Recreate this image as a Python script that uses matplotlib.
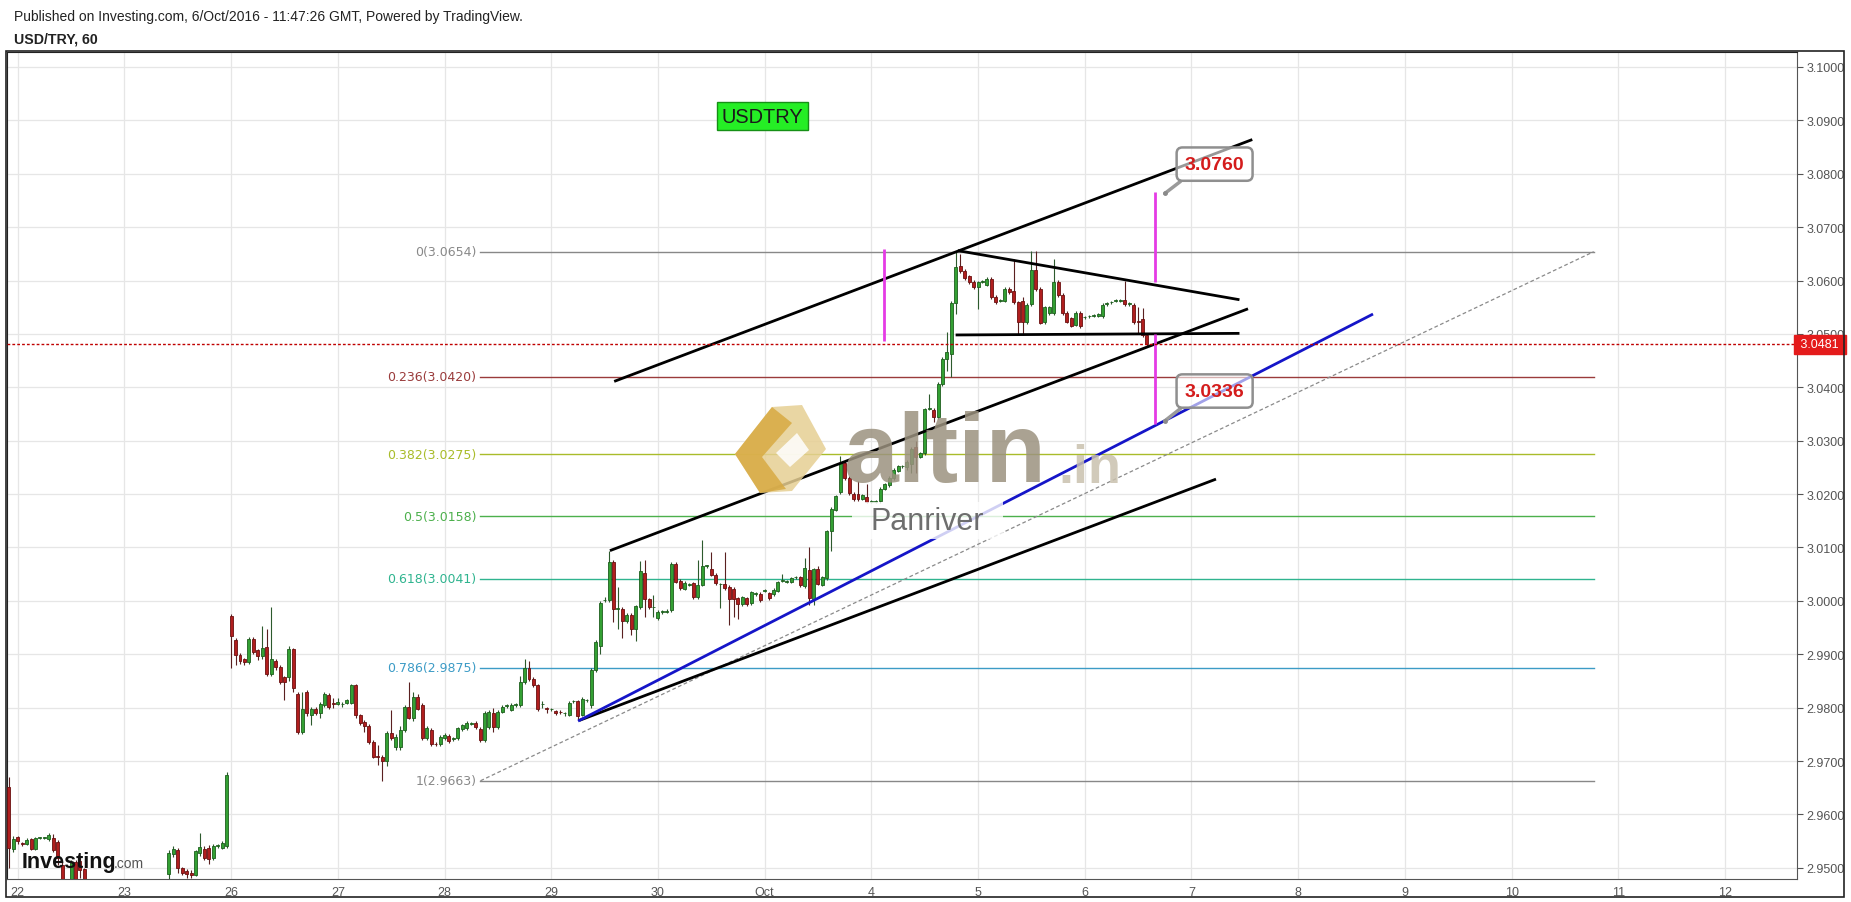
import numpy as np
import matplotlib
matplotlib.use("Agg")
import matplotlib.pyplot as plt
from matplotlib import patches, transforms

plt.rcParams['font.family'] = ['Liberation Sans', 'DejaVu Sans']

nan = np.nan
# hourly candles, first one 2 hours before the "22" day line; nan = off the bottom of the chart
first_hour = -2
opens = [
    2.9652, 2.9535, 2.9557, 2.9546, 2.9545, 2.9553, 2.9536, 2.9556, 2.9556, 2.9553, 2.9556, 2.9549,
    2.9506, 2.9460, 2.9440, 2.9510, 2.9513, 2.9497] + [nan] * 18 + [
    2.9488, 2.9525, 2.9534, 2.9500, 2.9494, 2.9491, 2.9487, 2.9527, 2.9536, 2.9538, 2.9519, 2.9541,
    2.9538, 2.9540, 2.9972, 2.9927, 2.9899, 2.9891, 2.9886, 2.9929, 2.9907, 2.9896, 2.9913, 2.9863,
    2.9888, 2.9876, 2.9857, 2.9857, 2.9909, 2.9826, 2.9755, 2.9830, 2.9786, 2.9798, 2.9789, 2.9805,
    2.9824, 2.9808, 2.9807, 2.9806, 2.9809, 2.9809, 2.9842, 2.9786, 2.9773, 2.9766, 2.9736, 2.9709,
    2.9708, 2.9700, 2.9752, 2.9726, 2.9726, 2.9758, 2.9801, 2.9780, 2.9820, 2.9804, 2.9743, 2.9758,
    2.9732, 2.9732, 2.9743, 2.9747, 2.9742, 2.9743, 2.9760, 2.9761, 2.9770, 2.9772, 2.9760, 2.9739,
    2.9764, 2.9790, 2.9764, 2.9792, 2.9803, 2.9796, 2.9805, 2.9805, 2.9848, 2.9874, 2.9854, 2.9842,
    2.9806, 2.9799, 2.9797, 2.9793, 2.9792, 2.9789, 2.9787, 2.9812, 2.9812, 2.9787, 2.9814, 2.9805,
    2.9870, 2.9916, 3.0001, 3.0001, 3.0072, 2.9985, 2.9985, 2.9963, 2.9974, 2.9948, 2.9988, 3.0052,
    3.0003, 2.9988, 2.9968, 2.9979, 2.9980, 2.9982, 3.0069, 3.0038, 3.0023, 3.0030, 3.0033, 3.0007,
    3.0030, 3.0065, 3.0060, 3.0049, 3.0031, 3.0031, 3.0026, 3.0023, 3.0005, 2.9994, 3.0005, 2.9996,
    3.0013, 3.0013, 3.0019, 3.0014, 3.0013, 3.0019, 3.0038, 3.0036, 3.0036, 3.0044, 3.0044, 3.0027,
    3.0057, 3.0004, 3.0059, 3.0030, 3.0042, 3.0130, 3.0171, 3.0204, 3.0258, 3.0230, 3.0200, 3.0200,
    3.0191, 3.0194, 3.0186, 3.0186, 3.0187, 3.0210, 3.0217, 3.0230, 3.0244, 3.0252, 3.0251, 3.0256,
    3.0288, 3.0270, 3.0277, 3.0360, 3.0358, 3.0344, 3.0406, 3.0453, 3.0463, 3.0557, 3.0627, 3.0618,
    3.0608, 3.0598, 3.0587, 3.0598, 3.0592, 3.0603, 3.0570, 3.0562, 3.0562, 3.0585, 3.0581, 3.0559,
    3.0562, 3.0522, 3.0556, 3.0619, 3.0585, 3.0522, 3.0539, 3.0539, 3.0598, 3.0573, 3.0539, 3.0529,
    3.0517, 3.0539, 3.0531, 3.0533, 3.0534, 3.0534, 3.0533, 3.0556, 3.0559, 3.0562, 3.0562, 3.0563,
    3.0556, 3.0554, 3.0525, 3.0528, 3.0498]
highs = [
    2.9670, 2.9560, 2.9560, 2.9549, 2.9555, 2.9556, 2.9558, 2.9558, 2.9558, 2.9566, 2.9563, 2.9552,
    2.9510, 2.9470, 2.9515, 2.9515, 2.9520, 2.9500] + [nan] * 18 + [
    2.9533, 2.9540, 2.9538, 2.9502, 2.9497, 2.9495, 2.9534, 2.9566, 2.9540, 2.9542, 2.9545, 2.9545,
    2.9550, 2.9680, 2.9975, 2.9930, 2.9903, 2.9893, 2.9932, 2.9932, 2.9910, 2.9953, 2.9947, 2.9988,
    2.9892, 2.9880, 2.9860, 2.9916, 2.9912, 2.9830, 2.9830, 2.9833, 2.9802, 2.9801, 2.9810, 2.9830,
    2.9827, 2.9818, 2.9818, 2.9810, 2.9817, 2.9845, 2.9845, 2.9788, 2.9776, 2.9770, 2.9740, 2.9730,
    2.9712, 2.9756, 2.9795, 2.9750, 2.9765, 2.9805, 2.9848, 2.9830, 2.9825, 2.9808, 2.9765, 2.9762,
    2.9736, 2.9748, 2.9752, 2.9750, 2.9745, 2.9764, 2.9770, 2.9775, 2.9773, 2.9775, 2.9764, 2.9793,
    2.9795, 2.9800, 2.9795, 2.9804, 2.9806, 2.9808, 2.9808, 2.9860, 2.9891, 2.9888, 2.9857, 2.9845,
    2.9812, 2.9802, 2.9800, 2.9796, 2.9795, 2.9792, 2.9812, 2.9815, 2.9815, 2.9820, 2.9817, 2.9874,
    2.9926, 3.0000, 3.0007, 3.0094, 3.0076, 3.0026, 2.9988, 2.9977, 2.9977, 2.9993, 3.0074, 3.0076,
    3.0006, 3.0011, 2.9982, 2.9982, 2.9985, 3.0072, 3.0072, 3.0041, 3.0037, 3.0033, 3.0036, 3.0077,
    3.0114, 3.0068, 3.0091, 3.0052, 3.0034, 3.0091, 3.0029, 3.0026, 3.0008, 3.0010, 3.0008, 3.0019,
    3.0016, 3.0016, 3.0022, 3.0017, 3.0024, 3.0038, 3.0051, 3.0039, 3.0045, 3.0047, 3.0047, 3.0080,
    3.0101, 3.0062, 3.0065, 3.0047, 3.0133, 3.0175, 3.0199, 3.0272, 3.0261, 3.0233, 3.0203, 3.0225,
    3.0201, 3.0219, 3.0189, 3.0189, 3.0214, 3.0221, 3.0233, 3.0248, 3.0255, 3.0255, 3.0263, 3.0288,
    3.0300, 3.0279, 3.0362, 3.0388, 3.0361, 3.0409, 3.0456, 3.0503, 3.0561, 3.0653, 3.0650, 3.0621,
    3.0611, 3.0601, 3.0600, 3.0601, 3.0606, 3.0606, 3.0573, 3.0565, 3.0587, 3.0588, 3.0640, 3.0562,
    3.0569, 3.0557, 3.0656, 3.0656, 3.0588, 3.0553, 3.0553, 3.0641, 3.0601, 3.0576, 3.0542, 3.0532,
    3.0543, 3.0542, 3.0534, 3.0536, 3.0537, 3.0540, 3.0557, 3.0559, 3.0562, 3.0565, 3.0565, 3.0600,
    3.0559, 3.0557, 3.0550, 3.0549, 3.0501]
lows = [
    2.9500, 2.9530, 2.9545, 2.9540, 2.9542, 2.9533, 2.9534, 2.9554, 2.9554, 2.9550, 2.9530, 2.9505,
    2.9440, 2.9440, 2.9430, 2.9460, 2.9480, 2.9460] + [nan] * 18 + [
    2.9460, 2.9520, 2.9490, 2.9486, 2.9480, 2.9480, 2.9484, 2.9522, 2.9515, 2.9508, 2.9515, 2.9538,
    2.9535, 2.9538, 2.9874, 2.9880, 2.9882, 2.9880, 2.9882, 2.9900, 2.9890, 2.9892, 2.9860, 2.9860,
    2.9870, 2.9845, 2.9814, 2.9850, 2.9830, 2.9750, 2.9750, 2.9785, 2.9767, 2.9786, 2.9780, 2.9802,
    2.9798, 2.9800, 2.9804, 2.9802, 2.9806, 2.9806, 2.9780, 2.9768, 2.9754, 2.9732, 2.9705, 2.9693,
    2.9663, 2.9690, 2.9740, 2.9720, 2.9720, 2.9755, 2.9778, 2.9775, 2.9795, 2.9740, 2.9740, 2.9728,
    2.9728, 2.9728, 2.9740, 2.9734, 2.9738, 2.9740, 2.9757, 2.9758, 2.9767, 2.9760, 2.9735, 2.9736,
    2.9760, 2.9755, 2.9760, 2.9789, 2.9800, 2.9794, 2.9802, 2.9802, 2.9845, 2.9850, 2.9838, 2.9793,
    2.9800, 2.9790, 2.9793, 2.9786, 2.9788, 2.9785, 2.9784, 2.9809, 2.9776, 2.9784, 2.9811, 2.9800,
    2.9866, 2.9900, 2.9997, 2.9998, 2.9960, 2.9948, 2.9930, 2.9958, 2.9936, 2.9924, 2.9985, 2.9969,
    2.9985, 2.9969, 2.9965, 2.9976, 2.9977, 2.9979, 3.0033, 3.0021, 3.0020, 3.0027, 3.0004, 3.0004,
    3.0027, 3.0062, 3.0046, 3.0030, 2.9986, 3.0021, 2.9955, 2.9970, 2.9966, 2.9991, 2.9991, 2.9993,
    3.0010, 2.9998, 3.0016, 3.0002, 3.0010, 3.0016, 3.0035, 3.0033, 3.0033, 3.0041, 3.0026, 3.0024,
    2.9993, 2.9993, 3.0029, 3.0027, 3.0039, 3.0094, 3.0168, 3.0200, 3.0226, 3.0198, 3.0187, 3.0187,
    3.0188, 3.0183, 3.0183, 3.0183, 3.0184, 3.0207, 3.0214, 3.0227, 3.0241, 3.0249, 3.0246, 3.0240,
    3.0240, 3.0267, 3.0274, 3.0357, 3.0335, 3.0341, 3.0403, 3.0430, 3.0420, 3.0537, 3.0614, 3.0601,
    3.0594, 3.0584, 3.0547, 3.0595, 3.0589, 3.0566, 3.0556, 3.0559, 3.0559, 3.0575, 3.0556, 3.0497,
    3.0497, 3.0519, 3.0553, 3.0581, 3.0518, 3.0519, 3.0536, 3.0536, 3.0570, 3.0536, 3.0520, 3.0512,
    3.0514, 3.0511, 3.0528, 3.0530, 3.0531, 3.0531, 3.0530, 3.0553, 3.0556, 3.0559, 3.0559, 3.0553,
    3.0553, 3.0519, 3.0500, 3.0495, 3.0478]
closes = [
    2.9537, 2.9553, 2.9550, 2.9545, 2.9552, 2.9536, 2.9556, 2.9556, 2.9556, 2.9561, 2.9534, 2.9518,
    2.9460, 2.9450, 2.9510, 2.9470, 2.9495, 2.9470] + [nan] * 18 + [
    2.9528, 2.9536, 2.9500, 2.9491, 2.9488, 2.9487, 2.9531, 2.9539, 2.9519, 2.9516, 2.9540, 2.9542,
    2.9547, 2.9674, 2.9935, 2.9899, 2.9888, 2.9886, 2.9929, 2.9904, 2.9896, 2.9911, 2.9863, 2.9891,
    2.9876, 2.9848, 2.9848, 2.9910, 2.9836, 2.9755, 2.9798, 2.9789, 2.9798, 2.9789, 2.9807, 2.9826,
    2.9801, 2.9807, 2.9810, 2.9806, 2.9814, 2.9842, 2.9786, 2.9772, 2.9766, 2.9736, 2.9708, 2.9708,
    2.9700, 2.9752, 2.9744, 2.9745, 2.9758, 2.9801, 2.9781, 2.9820, 2.9798, 2.9743, 2.9761, 2.9732,
    2.9731, 2.9745, 2.9748, 2.9737, 2.9742, 2.9761, 2.9767, 2.9772, 2.9770, 2.9763, 2.9739, 2.9790,
    2.9792, 2.9764, 2.9792, 2.9801, 2.9803, 2.9805, 2.9805, 2.9848, 2.9874, 2.9854, 2.9842, 2.9797,
    2.9806, 2.9798, 2.9797, 2.9789, 2.9791, 2.9789, 2.9809, 2.9812, 2.9785, 2.9817, 2.9814, 2.9870,
    2.9923, 2.9996, 3.0001, 3.0072, 2.9985, 2.9985, 2.9963, 2.9974, 2.9948, 2.9990, 3.0055, 3.0004,
    2.9988, 2.9988, 2.9979, 2.9979, 2.9980, 3.0069, 3.0036, 3.0024, 3.0034, 3.0030, 3.0007, 3.0030,
    3.0065, 3.0065, 3.0049, 3.0033, 3.0031, 3.0024, 3.0004, 3.0003, 2.9994, 3.0007, 2.9994, 3.0016,
    3.0013, 3.0001, 3.0019, 3.0005, 3.0021, 3.0035, 3.0038, 3.0036, 3.0042, 3.0044, 3.0029, 3.0061,
    3.0005, 3.0059, 3.0032, 3.0044, 3.0130, 3.0172, 3.0196, 3.0258, 3.0230, 3.0202, 3.0190, 3.0190,
    3.0198, 3.0186, 3.0186, 3.0186, 3.0210, 3.0218, 3.0230, 3.0245, 3.0252, 3.0252, 3.0260, 3.0285,
    3.0270, 3.0276, 3.0359, 3.0360, 3.0344, 3.0406, 3.0453, 3.0466, 3.0558, 3.0625, 3.0617, 3.0604,
    3.0597, 3.0587, 3.0597, 3.0598, 3.0603, 3.0569, 3.0559, 3.0562, 3.0584, 3.0578, 3.0559, 3.0522,
    3.0523, 3.0554, 3.0619, 3.0584, 3.0521, 3.0550, 3.0550, 3.0598, 3.0573, 3.0539, 3.0523, 3.0515,
    3.0540, 3.0514, 3.0531, 3.0533, 3.0534, 3.0537, 3.0554, 3.0556, 3.0559, 3.0562, 3.0562, 3.0556,
    3.0556, 3.0522, 3.0522, 3.0498, 3.0481]

day_labels = ['22', '23', '26', '27', '28', '29', '30', 'Oct', '4', '5', '6', '7', '8', '9', '10', '11', '12']
price_ticks = [2.95, 2.96, 2.97, 2.98, 2.99, 3.00, 3.01, 3.02, 3.03, 3.04, 3.05, 3.06, 3.07, 3.08, 3.09, 3.10]

# fibonacci retracement (ratio label, price, colour)
fib_ratios = ['0', '0.236', '0.382', '0.5', '0.618', '0.786', '1']
fib_prices = [3.0654, 3.0420, 3.0275, 3.0158, 3.0041, 2.9875, 2.9663]
fib_colors = ['#888888', '#9a3b3b', '#a9bc2a', '#4cb04c', '#2fb48f', '#3c9bc6', '#888888']
fib_x = [4.337, 14.77]

# trend lines drawn on the chart: ([x0, x1], [y0, y1])
upper_channel = ([5.59, 11.57], [3.0411, 3.0864])
mid_channel = ([5.55, 11.53], [3.0094, 3.0547])
lower_channel = ([5.263, 11.23], [2.9776, 3.0228])
blue_trend = ([5.263, 12.69], [2.9776, 3.0536])
triangle_top = ([8.81, 11.45], [3.0656, 3.0564])
triangle_base = ([8.79, 11.45], [3.0498, 3.0501])
magenta_x = [8.12, 10.66, 10.66]
magenta_lo = [3.0487, 3.0597, 3.0331]
magenta_hi = [3.0659, 3.0765, 3.0500]

target_texts = ['3.0760', '3.0336']
target_points = [(10.75, 3.0763), (10.75, 3.0337)]
target_boxes = [(11.217, 3.0818), (11.217, 3.0393)]

W, H = 1851, 903
fig = plt.figure(figsize=(W / 100, H / 100), dpi=100)


def fx(px):
    return px / W


def fy(py):
    return 1 - py / H


ax = fig.add_axes([fx(6.5), fy(880), fx(1797) - fx(6.5), fy(53) - fy(880)])
ax.set_xlim(-0.105, 16.675)
ax.set_ylim(2.9479, 3.1028)

# candles
o = np.array(opens)
h = np.array(highs)
l = np.array(lows)
c = np.array(closes)
x = (np.arange(len(o)) + first_hour) / 24.0
ok = ~np.isnan(o)
up = ok & (c >= o)
dn = ok & (c < o)
ax.vlines(x[up], l[up], h[up], color='#2d5a2d', lw=0.8, zorder=3)
ax.vlines(x[dn], l[dn], h[dn], color='#5a2020', lw=0.8, zorder=3)
bw = 0.028
hgt = np.maximum(np.abs(c - o), 0.00012)
ax.bar(x[up], hgt[up], bottom=np.minimum(o, c)[up], width=bw, color='#33a033',
       edgecolor='#1d5e1d', lw=0.6, zorder=3.5)
ax.bar(x[dn], hgt[dn], bottom=np.minimum(o, c)[dn], width=bw, color='#b01e1e',
       edgecolor='#6a1010', lw=0.6, zorder=3.5)

# fib retracement
for r, p, col in zip(fib_ratios, fib_prices, fib_colors):
    ax.plot(fib_x, [p, p], color=col, lw=1, zorder=2.5)
    ax.annotate(f'{r}({p:.4f})', xy=(fib_x[0], p), xytext=(-3, 0), textcoords='offset points',
                ha='right', va='center', color=col, fontsize=9, family='DejaVu Sans', zorder=5)
ax.plot(fib_x, [fib_prices[-1], fib_prices[0]], color='#8a8a8a', lw=0.9, ls=(0, (3, 2)), zorder=2.5)

# drawings
for xs, ys in [upper_channel, mid_channel, lower_channel, triangle_top, triangle_base]:
    ax.plot(xs, ys, color='black', lw=2, solid_capstyle='butt', zorder=4)
ax.plot(*blue_trend, color='#1515c8', lw=2, zorder=4)
ax.vlines(magenta_x, magenta_lo, magenta_hi, color='#e53be5', lw=2, zorder=4)

# last price line
last = closes[-1]
ax.axhline(last, color='#c00000', lw=1, ls=(0, (2, 1.5)), zorder=4.5)
ax.text(1.0, last, f' {last:.4f} ', transform=transforms.blended_transform_factory(ax.transAxes, ax.transData),
        ha='left', va='center', color='white', fontsize=9, clip_on=False, zorder=10,
        bbox=dict(boxstyle='square,pad=0.28', fc='#e41b1b', ec='#e41b1b'))

# target callouts
for t, pt, bx in zip(target_texts, target_points, target_boxes):
    ax.annotate(t, xy=pt, xytext=bx, ha='center', va='center', color='#d41c1c', fontsize=14,
                fontweight='bold', zorder=8,
                bbox=dict(boxstyle='round,pad=0.42,rounding_size=0.3', fc=(1, 1, 1, 0.6), ec='#8f8f8f', lw=1.8),
                arrowprops=dict(arrowstyle='-', color='#9a9a9a', lw=2.5, shrinkA=0, shrinkB=0, relpos=(0.12, 0.0)))
    ax.plot(*pt, 'o', ms=2.5, color='#8a8a8a', zorder=8)

ax.text(6.98, 3.0908, 'USDTRY', ha='center', va='center', fontsize=14.4, color='#1a1a1a', zorder=8,
        bbox=dict(boxstyle='square,pad=0.22', fc='#25ee25', ec='#169016', lw=1))

# axes styling
ax.set_xticks(range(len(day_labels)))
ax.set_xticklabels(day_labels)
ax.yaxis.tick_right()
ax.set_yticks(price_ticks)
ax.set_yticklabels([f'{v:.4f}' for v in price_ticks])
ax.grid(True, color='#e6e6e6', lw=0.9)
ax.set_axisbelow(True)
ax.tick_params(axis='x', length=0, pad=5, labelsize=9, labelcolor='#555555')
ax.tick_params(axis='y', direction='out', length=4, width=0.8, color='#555555', pad=3,
               labelsize=9, labelcolor='#555555')
for side in ['left', 'top']:
    ax.spines[side].set_color('#222222')
for side in ['right', 'bottom']:
    ax.spines[side].set_color('#555555')

# outer frame
fig.patches.append(patches.Rectangle((fx(6), fy(898)), fx(1844) - fx(6), fy(52) - fy(898),
                                     transform=fig.transFigure, fill=False, ec='#222222', lw=1.2))

# header
fig.text(fx(14), fy(16.5), 'Published on Investing.com, 6/Oct/2016 - 11:47:26 GMT, Powered by TradingView.',
         fontsize=10, va='center', color='#222222')
fig.text(fx(14), fy(39), 'USD/TRY, 60', fontsize=10.2, fontweight='bold', va='center', color='#222222')

# watermark
logo_outer = [(735, 455), (772, 408), (802, 406), (826, 450), (792, 492), (760, 494)]
logo_dark = [(735, 455), (772, 408), (792, 424), (762, 458), (786, 490), (760, 494)]
logo_inner = [(776, 454), (797, 434), (809, 451), (790, 468)]
for pts, col in [(logo_outer, '#e6cf93'), (logo_dark, '#d8aa42'), (logo_inner, '#ffffff')]:
    fig.patches.append(patches.Polygon([(fx(a), fy(b)) for a, b in pts], closed=True,
                                       transform=fig.transFigure, fc=col, ec='none', alpha=0.85))
fig.patches.append(patches.Rectangle((fx(852), fy(540)), fx(1003) - fx(852), fy(503) - fy(540),
                                     transform=fig.transFigure, fc='white', ec='none', alpha=0.8))
fig.text(fx(843), fy(481.7), 'altin', fontsize=71, fontweight='bold', color='#9b927f', alpha=0.85,
         va='baseline', ha='left')
fig.text(fx(1058), fy(483), '.in', fontsize=39, fontweight='bold', color='#c9c1ae', alpha=0.85,
         va='baseline', ha='left')
fig.text(fx(870), fy(530), 'Panriver', fontsize=22, color='#5e5e5e', alpha=0.9, va='baseline', ha='left')

# investing.com logo
fig.text(fx(22), fy(868), 'Investing', fontsize=15.5, fontweight='bold', color='#111111', va='baseline')
fig.text(fx(114), fy(868), '.com', fontsize=10, color='#555555', va='baseline')

fig.savefig('out.png', dpi=100)
